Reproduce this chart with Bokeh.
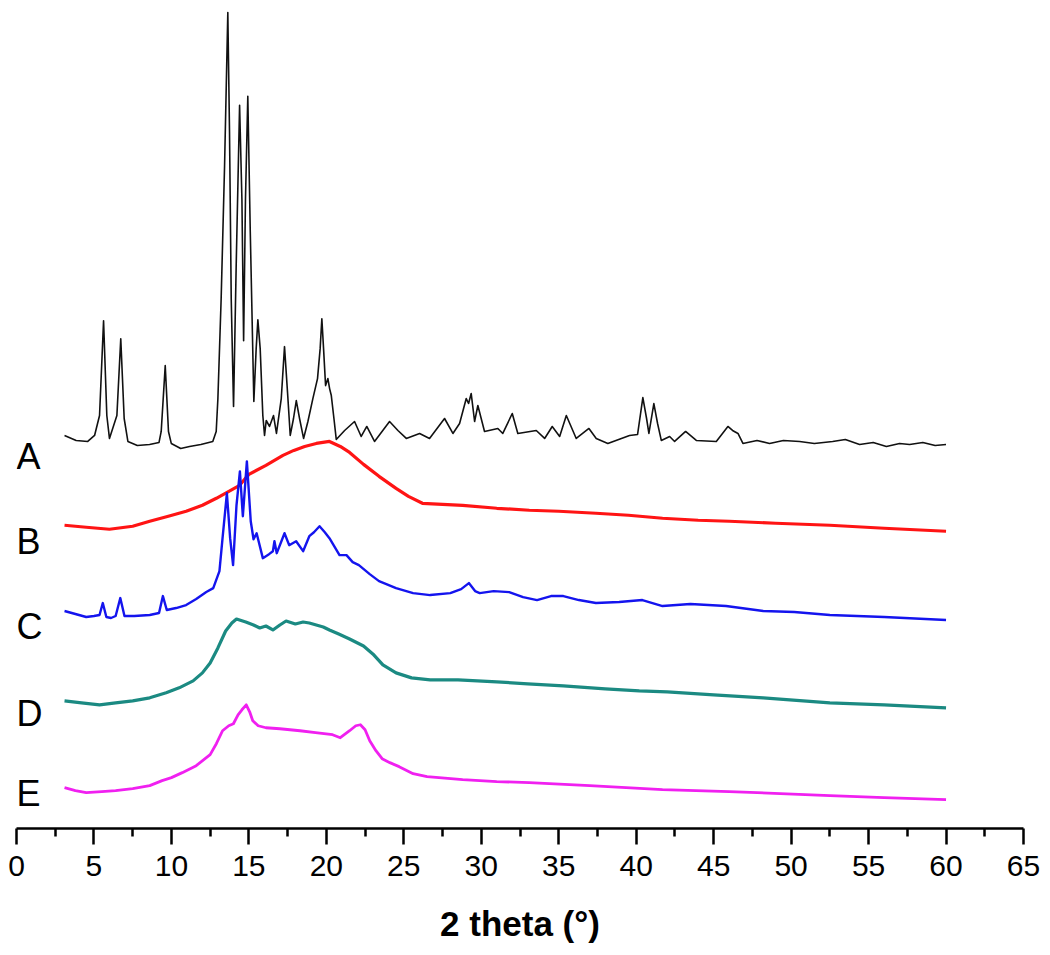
from bokeh.plotting import figure
from bokeh.models import Range1d, FixedTicker
from bokeh.core.properties import value
from bokeh.embed import file_html
from bokeh.resources import INLINE

# ---- data: 2 theta (deg) and offset intensity (a.u.) ----
x_a = [3.1, 3.85, 4.6, 5.04, 5.36, 5.62, 5.83, 6.0, 6.48, 6.73, 6.95, 7.19, 7.8, 8.59, 9.2, 9.34, 9.6, 9.81,
       9.99, 10.6, 11.17, 11.9, 12.67, 12.89, 13.0, 13.21, 13.43, 13.64, 13.75, 13.86, 14.01, 14.18, 14.4,
       14.55, 14.66, 14.78, 14.93, 15.09, 15.32, 15.47, 15.58, 15.73, 15.9, 16.01, 16.12, 16.33, 16.59,
       16.78, 17.09, 17.3, 17.52, 17.67, 17.88, 18.06, 18.27, 18.53, 18.81, 19.13, 19.43, 19.6, 19.71,
       19.82, 19.95, 20.1, 20.21, 20.32, 20.49, 20.64, 21.18, 21.82, 22.25, 22.61, 23.11, 24.08, 24.62,
       25.16, 26.02, 26.66, 27.63, 28.17, 28.6, 29.03, 29.18, 29.35, 29.57, 29.78, 30.21, 31.07, 31.39,
       32.0, 32.36, 33.55, 34.09, 34.58, 35.06, 35.49, 36.13, 36.95, 37.42, 38.17, 39.57, 40.09, 40.43,
       40.67, 40.82, 41.14, 41.38, 41.62, 42.16, 42.48, 43.19, 43.88, 45.17, 45.92, 46.22, 46.57, 46.89,
       47.8, 48.61, 49.5, 50.55, 51.5, 52.68, 53.5, 54.42, 55.3, 56.15, 57.0, 57.65, 58.5, 59.3, 60.0]
y_a = [391, 386, 385, 391, 411, 506, 411, 388, 411, 488, 408, 385, 381, 382, 384, 395, 461, 395,
       383, 378, 380, 382, 385, 395, 428, 528, 661, 815, 695, 528, 420, 561, 722,
       628, 486, 628, 731, 595, 425, 478, 507, 478, 411, 391, 406, 400, 411,
       393, 428, 480, 428, 391, 408, 426, 408, 388, 405, 428, 448, 478, 508,
       478, 441, 448, 438, 431, 408, 387, 396, 405, 390, 400, 385, 405, 396,
       388, 393, 388, 408, 393, 403, 428, 423, 433, 405, 421, 395, 398, 393,
       413, 393, 396, 388, 400, 390, 411, 388, 398, 388, 383, 391, 392, 429,
       408, 393, 423, 403, 386, 390, 385, 395, 386, 385, 400, 396, 393, 383,
       386, 383, 386, 385, 383, 385, 387, 382, 384, 380, 383, 382, 384, 381, 382]

x_b = [3.1, 4.5, 6.0, 7.5, 8.6, 9.8, 10.95, 12.0, 12.9, 14.4, 15.0, 16.1, 17.2, 17.9, 18.6, 19.35, 20.2,
       20.9, 21.5, 22.4, 23.4, 24.5, 25.3, 26.2, 27.5, 28.8, 31.0, 33.1, 35.0, 37.4, 39.5, 41.7, 44.0,
       46.0, 49.0, 52.5, 56.0, 60.0]
y_b = [301, 299, 297, 300, 305, 310, 315, 321, 328, 341, 352, 361, 371, 376, 380, 383, 385,
       380, 374, 362, 350, 338, 330, 323, 322, 321, 318, 316, 315, 313, 311, 308, 306,
       305, 303, 301, 298, 295]

x_c = [3.1, 3.8, 4.5, 5.0, 5.36, 5.57, 5.8, 6.1, 6.4, 6.7, 6.97, 7.6, 8.6, 9.2, 9.45, 9.7, 10.3, 10.95,
       11.6, 12.25, 12.7, 13.1, 13.3, 13.58, 13.79, 13.98, 14.2, 14.42, 14.61, 14.87, 15.12, 15.3, 15.5,
       15.9, 16.3, 16.55, 16.65, 16.8, 17.3, 17.6, 18.05, 18.5, 18.9, 19.2, 19.56, 19.9, 20.2, 20.85,
       21.3, 21.7, 22.1, 22.8, 23.4, 24.5, 25.6, 26.7, 28.0, 28.7, 29.2, 29.6, 29.9, 30.8, 31.8, 32.7,
       33.6, 34.5, 35.3, 36.3, 37.4, 38.9, 40.4, 41.7, 43.5, 45.8, 48.2, 50.2, 52.5, 56.0, 60.0]
y_c = [215, 212, 209, 210, 211, 223, 209, 208, 210, 228, 210, 210, 211, 213, 230, 216, 218, 221,
       227, 234, 238, 255, 288, 333, 288, 261, 321, 355, 310, 365, 305, 287, 293,
       268, 272, 275, 285, 273, 293, 281, 285, 275, 290, 294, 300, 294, 288, 271,
       271, 264, 261, 252, 245, 238, 233, 231, 233, 237, 243, 235, 233, 235, 234, 229,
       226, 230, 230, 226, 223, 224, 226, 220, 222, 220, 215, 214, 211, 209, 206]

x_d = [3.1, 4.2, 5.36, 6.4, 7.5, 8.6, 9.66, 10.5, 11.4, 12.0, 12.5, 13.0, 13.5, 13.9, 14.2, 14.8, 15.3,
       15.7, 16.1, 16.55, 17.0, 17.4, 18.0, 18.5, 18.9, 19.35, 19.8, 20.2, 20.8, 21.5, 22.4, 23.0, 23.65,
       24.5, 25.5, 26.7, 28.5, 31.0, 33.0, 35.3, 38.0, 40.2, 42.0, 45.0, 48.2, 52.5, 56.0, 60.0]
y_d = [125, 123, 121, 123, 125, 128, 133, 138, 145, 153, 163, 178, 195, 203, 207, 204, 201,
       198, 200, 196, 201, 205, 202, 204, 203, 201, 199, 196, 192, 187, 180, 172, 161,
       153, 148, 146, 146, 144, 142, 140, 137, 135, 134, 131, 128, 123, 121, 118]

x_e = [3.1, 3.8, 4.5, 5.5, 6.4, 7.5, 8.6, 9.4, 10.0, 10.7, 11.6, 12.5, 12.9, 13.3, 13.7, 14.0, 14.3,
       14.55, 14.83, 15.05, 15.25, 15.6, 16.1, 17.0, 18.3, 19.3, 20.4, 20.9, 21.5, 21.9, 22.2, 22.5,
       22.8, 23.2, 23.6, 24.1, 24.7, 25.6, 26.5, 28.8, 31.0, 33.1, 37.0, 41.7, 46.0, 52.5, 56.0, 60.0]
y_e = [38, 35, 33, 34, 35, 37, 40, 45, 48, 53, 60, 71, 82, 95, 100, 102, 111,
       116, 121, 114, 105, 100, 98, 97, 95, 93, 91, 88, 95, 100, 101, 96,
       85, 75, 67, 63, 59, 52, 49, 46, 44, 43, 40, 36, 34, 30, 28, 26]

sample_labels = ["A", "B", "C", "D", "E"]
label_x = [0.0, 0.0, 0.0, 0.0, 0.0]
label_y = [370, 285, 199, 112, 32]

x_ticks = list(range(0, 70, 5))
x_minor = [t + 2.5 for t in range(0, 65, 5)]

series = [
    (x_a, y_a, "#111111", 1.6),
    (x_b, y_b, "#ff1414", 3.2),
    (x_c, y_c, "#1414ee", 2.4),
    (x_d, y_d, "#1b8a82", 3.2),
    (x_e, y_e, "#f020f0", 2.8),
]

p = figure(width=1040, height=945, output_backend="svg", toolbar_location=None,
           x_range=Range1d(0, 65), y_range=Range1d(-3, 820),
           y_axis_location=None,
           min_border_left=16, min_border_right=17, min_border_top=7, min_border_bottom=115)
p.outline_line_color = None
p.xgrid.visible = False
p.ygrid.visible = False
p.background_fill_color = "white"
p.border_fill_color = "white"

for xs, ys, col, lw in series:
    p.line(xs, ys, line_color=col, line_width=lw, line_join="round")

p.text(x=label_x, y=label_y, text=sample_labels, text_font=value("Liberation Sans"),
       text_font_size="36px", text_align="left", text_baseline="alphabetic", text_color="black")

ax = p.xaxis[0]
ax.ticker = FixedTicker(ticks=x_ticks, minor_ticks=x_minor)
ax.axis_line_width = 2.5
ax.axis_line_color = "black"
ax.major_tick_line_width = 2.5
ax.major_tick_line_color = "black"
ax.major_tick_out = 16
ax.major_tick_in = 0
ax.minor_tick_line_width = 2.5
ax.minor_tick_line_color = "black"
ax.minor_tick_out = 8
ax.minor_tick_in = 0
ax.major_label_text_font = "Liberation Sans"
ax.major_label_text_font_size = "30px"
ax.major_label_text_color = "black"
ax.major_label_standoff = 11
ax.axis_label = "2 theta (°)"
ax.axis_label_text_font = "Liberation Sans"
ax.axis_label_text_font_size = "35px"
ax.axis_label_text_font_style = "bold"
ax.axis_label_text_color = "black"
ax.axis_label_standoff = 25

open("out.html", "w").write(file_html(p, INLINE))
